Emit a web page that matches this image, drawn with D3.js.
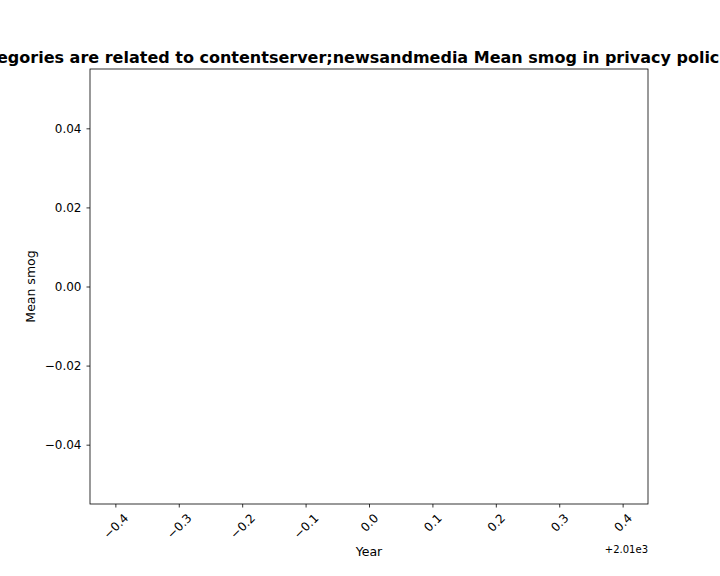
<!DOCTYPE html>
<meta charset="utf-8">
<style>
body { margin: 0; background: #fff; }
text { font-family: "DejaVu Sans", sans-serif; fill: #000; }
</style>
<body>
<svg id="chart" width="720" height="576"></svg>
<script src="https://cdn.jsdelivr.net/npm/d3@7"></script>
<script>

// the source plot has no data points, only the empty axes
var years = [];
var meanSmog = [];

var yearOffset = 2010;
var xTicks = [-0.4, -0.3, -0.2, -0.1, 0.0, 0.1, 0.2, 0.3, 0.4];
var yTicks = [-0.04, -0.02, 0.00, 0.02, 0.04];
var xDomain = [-0.44, 0.44];
var yDomain = [-0.055, 0.055];

var title = "Categories are related to contentserver;newsandmedia Mean smog in privacy policies";

var m = { left: 90, right: 72, top: 69, bottom: 72 };
var W = 720, H = 576;
var w = W - m.left - m.right, h = H - m.top - m.bottom;

var svg = d3.select("#chart");
var g = svg.append("g").attr("transform", "translate(" + m.left + "," + m.top + ")");

var x = d3.scaleLinear().domain(xDomain).range([0, w]);
var y = d3.scaleLinear().domain(yDomain).range([h, 0]);

function minus(s) { return s.replace("-", "\u2212"); }

var xAxis = d3.axisBottom(x).tickValues(xTicks).tickSize(3.5).tickPadding(3)
  .tickFormat(function(d) { return minus(d3.format(".1f")(d)); });
var yAxis = d3.axisLeft(y).tickValues(yTicks).tickSize(3.5).tickPadding(5)
  .tickFormat(function(d) { return minus(d3.format(".2f")(d)); });

var gx = g.append("g").attr("transform", "translate(0," + h + ")").call(xAxis);
// rotated labels, box centred under the tick like matplotlib's ha=center
var fs = 12, lh = 1.164 * fs;
gx.selectAll("text")
  .attr("font-size", fs)
  .attr("text-anchor", "middle")
  .attr("x", 0).attr("y", 0)
  .attr("dy", "0.346em")
  .attr("transform", function() {
    var L = this.getComputedTextLength();
    var cy = 3.5 + 3.5 + (L + lh) / (2 * Math.SQRT2);
    return "translate(0," + cy + ") rotate(-45)";
  });

var gy = g.append("g").call(yAxis);
gy.selectAll("text").attr("font-size", fs);

[gx, gy].forEach(function(a) {
  a.select(".domain").remove();
  a.selectAll(".tick line").attr("stroke", "#000").attr("stroke-width", 0.8);
});

// frame
g.append("rect").attr("width", w).attr("height", h)
  .attr("fill", "none").attr("stroke", "#000").attr("stroke-width", 0.8);

// points (none in the source)
g.selectAll("circle").data(years).enter().append("circle")
  .attr("cx", function(d) { return x(d - yearOffset); })
  .attr("cy", function(d, i) { return y(meanSmog[i]); })
  .attr("r", 3).attr("fill", "#1f77b4");

g.append("text").attr("x", w).attr("y", h + 49)
  .attr("text-anchor", "end").attr("font-size", 10)
  .text("+2.01e3");

svg.append("text").attr("x", m.left + w / 2).attr("y", 556)
  .attr("text-anchor", "middle").attr("font-size", 12.5).text("Year");

svg.append("text")
  .attr("transform", "translate(35," + (m.top + h / 2) + ") rotate(-90)")
  .attr("text-anchor", "middle").attr("font-size", 12.5).text("Mean smog");

svg.append("text").attr("x", m.left + w / 2 - 13).attr("y", 63)
  .attr("text-anchor", "middle").attr("font-size", 16).attr("font-weight", "bold")
  .text(title);

</script>
</body>
